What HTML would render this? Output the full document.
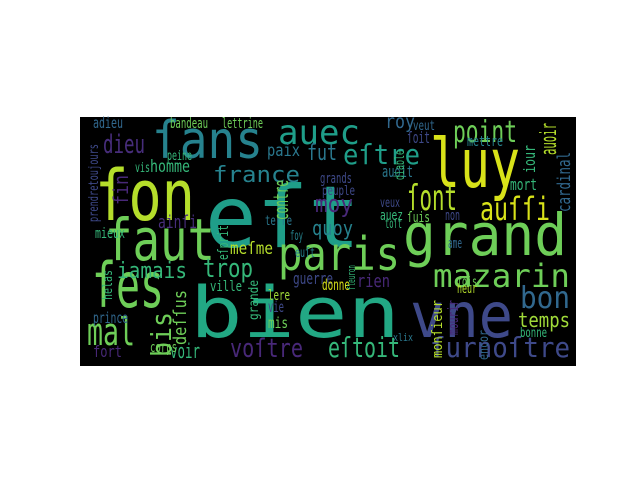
<!DOCTYPE html>
<html><head><meta charset="utf-8"><style>
body{margin:0;background:#fff;width:640px;height:480px;overflow:hidden}
svg text{font-family:"DejaVu Sans Mono","Liberation Mono",monospace}
</style></head><body>
<svg width="640" height="480" xmlns="http://www.w3.org/2000/svg">
<rect x="80" y="117" width="496" height="249" fill="#000"/>
<g id="words"></g>
</svg>
<script>
const words=["eſt","ſon","faut","ſans","auec","luy","grand","ſes","bien","vne","paris","point","ſont","auſſi","eſtre","mazarin","bon","temps","ſurnoſtre","eſtoit","voſtre","voir","mal","fort","corps","iamais","trop","france","dieu","adieu","moy","quoy","roy","fut","homme","paix","bandeau","lettrine","ainſi","meſme","guerre","ville","rien","mort","auoit","veut","ſoit","mettre","grands","peuple","donne","fois","heur","ame","toſt","non","ſuis","auez","veux","prince","lere","vie","mis","terre","foy","euſt","bonne","xlix","peine","vis","mieux"];
const xs=[205,95,105,152,278,430,403,92,190,410,278,453,407,480,343,433,520,518,430,328,230,170,87,93,150,117,203,213,103,93,315,312,385,307,150,267,170,222,158,230,293,210,357,510,382,413,407,467,320,322,322,457,457,448,385,445,407,380,380,93,268,268,268,265,290,295,520,393,167,135,95];
const ys=[247,220,260,158,144,187,255,307,337,337,270,142,210,220,164,287,308,327,357,357,357,358,345,357,352,278,277,182,153,128,212,235,128,160,172,156,128,128,228,254,284,291,287,190,177,130,143,146,183,195,290,286,293,248,228,220,222,220,207,323,300,312,328,225,240,257,337,341,160,172,238];
const sizes=[86,70,58,52,34,68,58,62,70,62,46,30,36,32,28,32,30,20,28,28,26,20,38,16,14,22,26,22,26,15,24,20,19,22,17,17,14,14,18,17,16,14,18,16,16,13,16,14,14,13,15,13,13,14,13,14,14,14,13,15,14,15,15,13,13,13,13,11,13,13,14];
const widths=[155,100,110,111,82,90,164,72,210,103,122,64,50,70,77,137,50,52,140,72,73,30,48,29,27,70,50,87,42,30,38,41,30,30,40,33,38,41,39,43,40,32,33,27,31,22,23,36,32,33,28,20,20,14,17,15,23,23,20,35,22,16,20,27,13,20,27,20,25,15,30];
const cols=["#1f9e89","#b5de2b","#6ece58","#26828e","#1f9e89","#d8e219","#6ece58","#6ece58","#22a884","#3e4989","#6ece58","#6ece58","#b5de2b","#d8e219","#1f9e89","#6ece58","#31688e","#a0da39","#3e4989","#35b779","#482878","#35b779","#6ece58","#482878","#6ece58","#35b779","#35b779","#26828e","#472d7b","#31688e","#482878","#26828e","#31688e","#2a788e","#35b779","#2a788e","#6ece58","#6ece58","#472d7b","#b5de2b","#3e4989","#35b779","#482878","#35b779","#2a788e","#31688e","#3e4989","#26828e","#3e4989","#3e4989","#d8e219","#6ece58","#b5de2b","#31688e","#35b779","#3e4989","#6ece58","#35b779","#3e4989","#31688e","#a0da39","#3e4989","#6ece58","#2a788e","#26828e","#26828e","#35b779","#2a788e","#35b779","#35b779","#35b779"];
const g=document.getElementById('words');
const ns="http://www.w3.org/2000/svg";
for(let i=0;i<words.length;i++){
  const t=document.createElementNS(ns,'text');
  
  
  t.setAttribute('x',xs[i]);t.setAttribute('y',ys[i]);
  t.setAttribute('font-size',sizes[i]);t.setAttribute('fill',cols[i]);
  t.setAttribute('textLength',widths[i]);t.setAttribute('lengthAdjust','spacingAndGlyphs');
  t.textContent=words[i];g.appendChild(t);
}
const vw=["cardinal","auoir","bis","fin","deſſus","contre","eſprit","mourir","monſieur","iour","prendretoujours","diable","grande","helas","encor","fleuron"];
const vx=[570,556,171,128,186,288,228,458,442,535,98,404,258,112,488,355];
const vy=[212,155,357,205,345,220,260,335,358,173,222,180,320,300,360,290];
const vs=[18,22,28,20,18,20,14,14,14,16,13,13,13,13,13,11];
const vl=[60,32,45,30,55,40,35,35,58,28,78,30,40,30,30,25];
const vc=["#31688e","#b5de2b","#6ece58","#482878","#6ece58","#6ece58","#35b779","#482878","#b5de2b","#35b779","#3e4989","#35b779","#35b779","#35b779","#31688e","#35b779"];
for(let i=0;i<vw.length;i++){
  const t=document.createElementNS(ns,'text');
  
  
  t.setAttribute('transform','translate('+vx[i]+','+vy[i]+') rotate(-90)');
  t.setAttribute('font-size',vs[i]);t.setAttribute('fill',vc[i]);
  t.setAttribute('textLength',vl[i]);t.setAttribute('lengthAdjust','spacingAndGlyphs');
  t.textContent=vw[i];g.appendChild(t);
}
</script>
</body></html>
